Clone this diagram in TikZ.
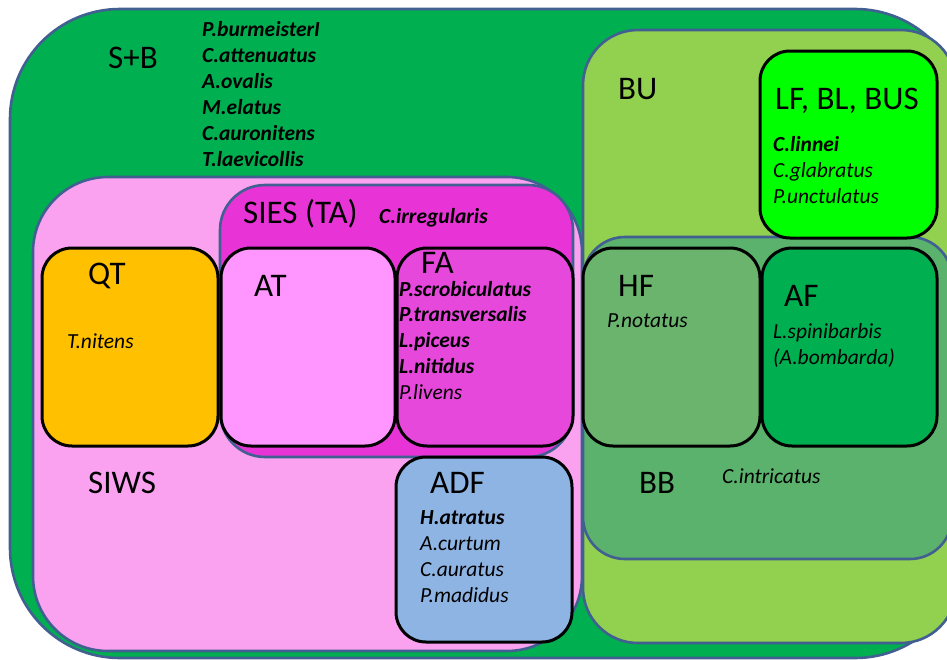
\documentclass[tikz,border=0pt]{standalone}
\usepackage{fontspec}
\setmainfont{Carlito}
\usetikzlibrary{fit}
\definecolor{edgeblue}{RGB}{65,96,145}
\definecolor{sbgreen}{RGB}{0,176,80}
\definecolor{bulight}{RGB}{146,208,80}
\definecolor{bbgreen}{RGB}{90,178,108}
\definecolor{hfgreen}{RGB}{106,180,110}
\definecolor{afgreen}{RGB}{0,176,80}
\definecolor{lfgreen}{RGB}{0,255,0}
\definecolor{siwspink}{RGB}{250,162,240}
\definecolor{siesmag}{RGB}{232,52,214}
\definecolor{famag}{RGB}{230,72,220}
\definecolor{atpink}{RGB}{255,150,255}
\definecolor{qtorange}{RGB}{255,192,0}
\definecolor{adfblue}{RGB}{142,180,227}
\begin{document}
\begin{tikzpicture}[x=1pt,y=-1pt,
  region/.style={draw=edgeblue,line width=2.6pt,inner sep=0pt,outer sep=0pt,rounded corners=#1},
  habitat/.style={draw=black,line width=3pt,inner sep=0pt,outer sep=0pt,rounded corners=30pt},
  lab/.style={anchor=base west,inner sep=0pt,font=\fontsize{33}{39}\selectfont},
  sp/.style={anchor=base west,inner sep=0pt,font=\fontsize{21.5}{26}\selectfont\itshape},
  bsp/.style={sp,font=\fontsize{21.5}{26}\selectfont\bfseries\itshape}]
\useasboundingbox (0,0) rectangle (947,659);
\clip (0,0) rectangle (947,659);
\fill[white] (0,0) rectangle (947,659);

% nested habitat regions
\node[region=110pt,fill=sbgreen,fit={(10,9) (965,658)}] (sb) {};
\node[region=55pt,fill=bulight,fit={(583,30) (956,643)}] (bu) {};
\node[region=42pt,fill=bbgreen,fit={(583,237) (952,559)}] (bb) {};
\node[region=75pt,fill=siwspink,fit={(33,177) (582,651)}] (siws) {};
\node[region=45pt,fill=siesmag,fit={(220,185) (573,457)}] (sies) {};

% single habitats
\node[habitat,fill=qtorange,fit={(42,248) (218,446)}] (qt) {};
\node[habitat,fill=atpink,fit={(221,248) (395,446)}] (at) {};
\node[habitat,fill=famag,fit={(397,248) (573,446)}] (fa) {};
\node[habitat,fill=adfblue,fit={(396,457) (572,642)}] (adf) {};
\node[habitat,fill=lfgreen,fit={(760,51) (937,238)}] (lf) {};
\node[habitat,fill=hfgreen,fit={(583,248) (760,446)}] (hf) {};
\node[habitat,fill=afgreen,fit={(762,248) (937,446)}] (af) {};

% S+B
\node[lab] (sbl) at (108,68) {S+B};
\node[bsp] (sb1) at (202,36) {P.burmeisterI};
\node[bsp] (sb2) at (202,62) {C.attenuatus};
\node[bsp] (sb3) at (202,88) {A.ovalis};
\node[bsp] (sb4) at (202,114) {M.elatus};
\node[bsp] (sb5) at (202,140) {C.auronitens};
\node[bsp] (sb6) at (202,166) {T.laevicollis};

% BU and LF, BL, BUS
\node[lab] (bul) at (618,99) {BU};
\node[lab] (lfl) at (775,109) {LF, BL, BUS};
\node[bsp] (lf1) at (773,151) {C.linnei};
\node[sp] (lf2) at (773,177) {C.glabratus};
\node[sp] (lf3) at (773,203) {P.unctulatus};

% SIES (TA)
\node[lab] (siesl) at (243,223) {SIES (TA)};
\node[bsp] (sies1) at (379,223) {C.irregularis};

% QT, AT, FA
\node[lab] (qtl) at (88,284) {QT};
\node[sp] (qt1) at (67,348) {T.nitens};
\node[lab] (atl) at (254,296) {AT};
\node[lab] (fal) at (421,273) {FA};
\node[bsp] (fa1) at (399,296) {P.scrobiculatus};
\node[bsp] (fa2) at (399,321) {P.transversalis};
\node[bsp] (fa3) at (399,347) {L.piceus};
\node[bsp] (fa4) at (399,373) {L.nitidus};
\node[sp] (fa5) at (399,399) {P.livens};

% SIWS and ADF
\node[lab] (siwsl) at (88,493) {SIWS};
\node[lab] (adfl) at (430,493) {ADF};
\node[bsp] (adf1) at (420,524) {H.atratus};
\node[sp] (adf2) at (420,550) {A.curtum};
\node[sp] (adf3) at (420,576) {C.auratus};
\node[sp] (adf4) at (420,602) {P.madidus};

% HF, AF, BB
\node[lab] (hfl) at (618,296) {HF};
\node[sp] (hf1) at (607,327) {P.notatus};
\node[lab] (afl) at (784,306) {AF};
\node[sp] (af1) at (773,338) {L.spinibarbis};
\node[sp] (af2) at (773,364) {(A.bombarda)};
\node[lab] (bbl) at (639,493) {BB};
\node[sp] (bb1) at (722,483) {C.intricatus};
\end{tikzpicture}
\end{document}
